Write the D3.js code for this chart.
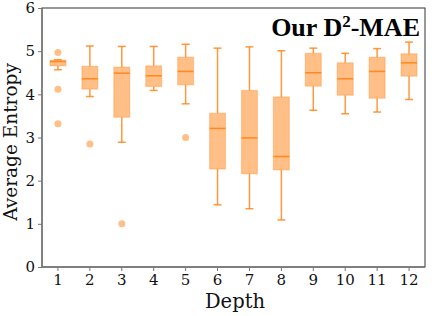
<!DOCTYPE html>
<html><head><meta charset="utf-8">
<script src="https://cdn.jsdelivr.net/npm/d3@7"></script>
<style>body{margin:0;background:#fff}svg{display:block}</style>
</head><body>
<script>
const depths = [1,2,3,4,5,6,7,8,9,10,11,12];
const whiskerLow  = [4.57,3.95,2.89,4.09,3.78,1.44,1.35,1.09,3.63,3.55,3.59,3.88];
const q1          = [4.66,4.12,3.47,4.18,4.22,2.27,2.16,2.25,4.19,3.98,3.91,4.42];
const medians     = [4.76,4.36,4.49,4.43,4.53,3.21,2.99,2.56,4.50,4.36,4.53,4.73];
const q3          = [4.79,4.65,4.63,4.66,4.86,3.56,4.09,3.94,4.95,4.73,4.86,4.94];
const whiskerHigh = [4.80,5.12,5.11,5.11,5.16,5.07,5.10,5.01,5.07,4.95,5.06,5.21];
const outlierDepth = [1,1,1,2,3,5];
const outlierValue = [4.97,4.12,3.32,2.85,1.00,3.00];
const yTicks = [0,1,2,3,4,5,6];

const W=432,H=316;
const m={l:42,r:7,t:8,b:49};
const svg=d3.select("body").append("svg").attr("width",W).attr("height",H);
const x=d3.scaleBand().domain(depths).range([m.l,W-m.r]).padding(0.5).paddingOuter(0.25);
const y=d3.scaleLinear().domain([0,6]).range([H-m.b,m.t]);
const orange="#ff7f0e";
const g=svg.append("g");
const bw=x.bandwidth();
depths.forEach((d,i)=>{
  const cx=x(d)+bw/2;
  g.append("line").attr("x1",cx).attr("x2",cx).attr("y1",y(whiskerLow[i])).attr("y2",y(q1[i]))
    .attr("stroke",orange).attr("stroke-opacity",0.8).attr("stroke-width",1.5);
  g.append("line").attr("x1",cx).attr("x2",cx).attr("y1",y(q3[i])).attr("y2",y(whiskerHigh[i]))
    .attr("stroke",orange).attr("stroke-opacity",0.8).attr("stroke-width",1.5);
  [whiskerLow[i],whiskerHigh[i]].forEach(v=>{
    g.append("line").attr("x1",cx-bw/4).attr("x2",cx+bw/4).attr("y1",y(v)).attr("y2",y(v))
      .attr("stroke",orange).attr("stroke-opacity",0.8).attr("stroke-width",1.5);
  });
  g.append("rect").attr("x",x(d)).attr("width",bw).attr("y",y(q3[i])).attr("height",y(q1[i])-y(q3[i]))
    .attr("fill",orange).attr("fill-opacity",0.5).attr("stroke",orange).attr("stroke-opacity",0.3).attr("stroke-width",1.2);
  g.append("line").attr("x1",x(d)).attr("x2",x(d)+bw).attr("y1",y(medians[i])).attr("y2",y(medians[i]))
    .attr("stroke",orange).attr("stroke-opacity",0.85).attr("stroke-width",1.5);
});
outlierDepth.forEach((d,i)=>{
  g.append("circle").attr("cx",x(d)+bw/2).attr("cy",y(outlierValue[i])).attr("r",3.5)
    .attr("fill",orange).attr("fill-opacity",0.5);
});
svg.append("rect").attr("x",m.l).attr("y",m.t).attr("width",W-m.r-m.l).attr("height",H-m.b-m.t)
  .attr("fill","none").attr("stroke","#333").attr("stroke-width",1);
svg.append("line").attr("x1",m.l).attr("x2",m.l).attr("y1",m.t).attr("y2",H-m.b).attr("stroke","#777").attr("stroke-width",1.3);
svg.append("line").attr("x1",m.l).attr("x2",W-m.r).attr("y1",H-m.b).attr("y2",H-m.b).attr("stroke","#777").attr("stroke-width",1.3);

const font="'DejaVu Serif', serif";
const ya=svg.append("g").attr("transform",`translate(${m.l},0)`)
  .call(d3.axisLeft(y).tickValues(yTicks).tickSize(4).tickPadding(3).tickFormat(d3.format("d")));
ya.select(".domain").remove();
ya.selectAll("line").attr("stroke","#777");
ya.selectAll("text").attr("font-family",font).attr("font-size",15).attr("fill","#111");
const xa=svg.append("g").attr("transform",`translate(0,${H-m.b})`)
  .call(d3.axisBottom(x).tickSize(4).tickPadding(3));
xa.select(".domain").remove();
xa.selectAll("line").attr("stroke","#777");
xa.selectAll("text").attr("font-family",font).attr("font-size",15).attr("fill","#111");

svg.append("text").attr("x",235).attr("y",308).attr("text-anchor","middle")
  .attr("font-family",font).attr("font-size",19.5).attr("fill","#111").text("Depth");
svg.append("text").attr("transform","translate(17,142) rotate(-90)").attr("text-anchor","middle")
  .attr("font-family",font).attr("font-size",18.5).attr("fill","#111").text("Average Entropy");

const t=svg.append("text").attr("x",420).attr("y",36).attr("text-anchor","end")
  .attr("font-family","'Liberation Serif', 'Times New Roman', serif").attr("font-weight","bold")
  .attr("font-size",26).attr("fill","#000");
t.append("tspan").text("Our D");
t.append("tspan").attr("font-size",17).attr("dy",-9).text("2");
t.append("tspan").attr("dy",9).text("-MAE");
</script>
</body></html>
